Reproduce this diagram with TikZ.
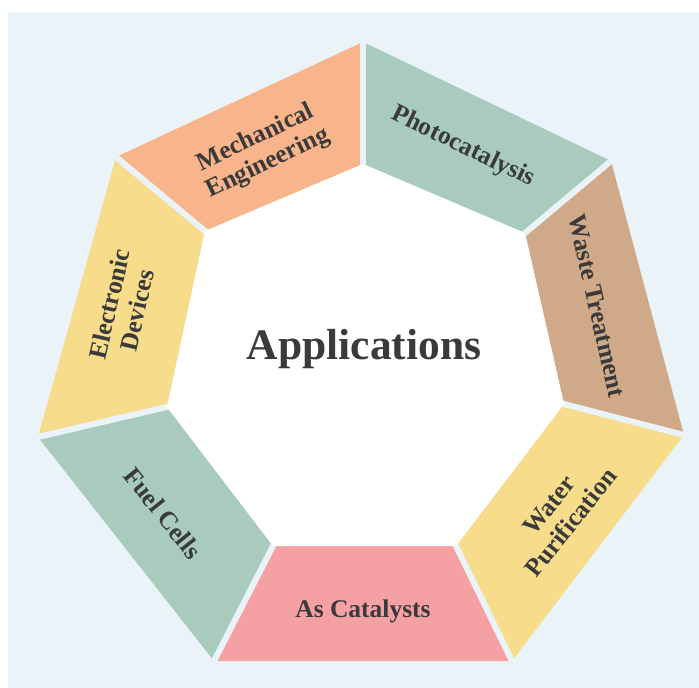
\documentclass[tikz,border=0pt]{standalone}
\usepackage{fontspec}
\setmainfont{Liberation Serif}
\usetikzlibrary{calc}
\definecolor{bgblue}{HTML}{EAF3F7}
\definecolor{segorange}{HTML}{F8B48B}
\definecolor{seggreen}{HTML}{A8CBBE}
\definecolor{segtan}{HTML}{D0AA88}
\definecolor{segyellow}{HTML}{F7DC8B}
\definecolor{segpink}{HTML}{F5A1A4}
\definecolor{txtgray}{HTML}{3A3A3A}
\tikzset{
  gapline/.style={draw=bgblue, line width=6pt},
  lbl/.style={text=txtgray, font=\bfseries\fontsize{25.5}{28}\selectfont, align=center, inner sep=0pt},
  title/.style={text=txtgray, font=\bfseries\fontsize{43.5}{48}\selectfont, inner sep=0pt}
}
\begin{document}
\begin{tikzpicture}[x=1pt,y=-1pt]
\useasboundingbox (0,0) rectangle (699,688);
\fill[white] (0,0) rectangle (699,688);
\fill[bgblue] (8,12) rectangle (699,688);
% outer vertices
\coordinate (o0) at (363,42);
\coordinate (o1) at (116,157);
\coordinate (o2) at (38,437);
\coordinate (o3) at (214,661);
\coordinate (o4) at (512,661);
\coordinate (o5) at (684,435);
\coordinate (o6) at (611,161);
% inner vertices
\coordinate (i0) at (363,164);
\coordinate (i1) at (205,231);
\coordinate (i2) at (167,407);
\coordinate (i3) at (273,546);
\coordinate (i4) at (456,546);
\coordinate (i5) at (564,404);
\coordinate (i6) at (525,233);
\fill[segorange] (o0) -- (o1) -- (i1) -- (i0) -- cycle;
\fill[segyellow] (o1) -- (o2) -- (i2) -- (i1) -- cycle;
\fill[seggreen]  (o2) -- (o3) -- (i3) -- (i2) -- cycle;
\fill[segpink]   (o3) -- (o4) -- (i4) -- (i3) -- cycle;
\fill[segyellow] (o4) -- (o5) -- (i5) -- (i4) -- cycle;
\fill[segtan]    (o5) -- (o6) -- (i6) -- (i5) -- cycle;
\fill[seggreen]  (o6) -- (o0) -- (i0) -- (i6) -- cycle;
\foreach \k in {0,...,6}{
  \draw[gapline] ($(i\k)!-0.1!(o\k)$) -- ($(o\k)!-0.05!(i\k)$);
}
\fill[white] (i0) -- (i1) -- (i2) -- (i3) -- (i4) -- (i5) -- (i6) -- cycle;
\node[title, anchor=base] (app) at (364,359) {Applications};
\node[lbl, rotate=25.7]   (mech)  at (262,151) {Mechanical\\Engineering};
\node[lbl, rotate=77.14]  (elec)  at (123,307) {Electronic\\Devices};
\node[lbl, rotate=-51.43] (fuel)  at (163,513) {Fuel Cells};
\node[lbl, anchor=base]   (cat)   at (363,617) {As Catalysts};
\node[lbl, rotate=51.43]  (water) at (560,514) {Water\\Purification};
\node[lbl, rotate=-77.14] (waste) at (597,306) {Waste Treatment};
\node[lbl, rotate=-25.7]  (photo) at (463,147) {Photocatalysis};
\end{tikzpicture}
\end{document}
